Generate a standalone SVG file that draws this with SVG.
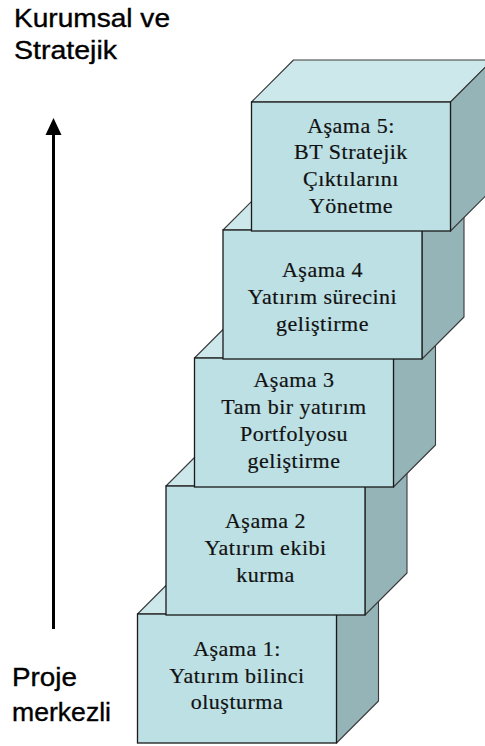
<svg xmlns="http://www.w3.org/2000/svg" width="485" height="746" viewBox="0 0 485 746">
  <style>
    .front { fill: #BCE0E4; stroke: #1a1a1a; stroke-width: 1.3; }
    .top { fill: #CDE8EB; stroke: #3a3a3a; stroke-width: 1.1; stroke-linejoin: round; }
    .side { fill: #94B4B8; stroke: #3a3a3a; stroke-width: 1.1; stroke-linejoin: round; }
    .lbl { font-family: "Liberation Serif", "Times New Roman", serif; font-size: 22px; letter-spacing: 0.5px; fill: #111; stroke: #111; stroke-width: 0.2; text-anchor: middle; }
    .axis { font-family: "Liberation Sans", Arial, sans-serif; font-size: 25px; fill: #000; stroke: #000; stroke-width: 0.35; }
  </style>
  <rect width="485" height="746" fill="#ffffff"/>

  <!-- axis labels -->
  <text class="axis" x="14" y="27" textLength="156" lengthAdjust="spacingAndGlyphs">Kurumsal ve</text>
  <text class="axis" x="14" y="59" textLength="103" lengthAdjust="spacingAndGlyphs">Stratejik</text>
  <text class="axis" x="12" y="686" textLength="65" lengthAdjust="spacingAndGlyphs">Proje</text>
  <text class="axis" x="12" y="721" textLength="99" lengthAdjust="spacingAndGlyphs">merkezli</text>

  <!-- upward arrow -->
  <g id="connectors">
    <line x1="53.5" y1="629" x2="53.5" y2="130" stroke="#000" stroke-width="3"/>
    <polygon points="53.5,118 45.5,135 61.5,135" fill="#000"/>
  </g>

  <!-- Stage 1 -->
  <g id="stage1">
    <polygon class="top" points="137.5,614 179.5,572 378.5,572 336.5,614"/>
    <polygon class="side" points="336.5,614 378.5,572 378.5,701 336.5,743"/>
    <rect class="front" x="137.5" y="614" width="199" height="129"/>
    <text class="lbl" x="237" y="656">Aşama 1:</text>
    <text class="lbl" x="237" y="683">Yatırım bilinci</text>
    <text class="lbl" x="237" y="709">oluşturma</text>
  </g>

  <!-- Stage 2 -->
  <g id="stage2">
    <polygon class="top" points="166,486 208,444 407,444 365,486"/>
    <polygon class="side" points="365,486 407,444 407,573 365,615"/>
    <rect class="front" x="166" y="486" width="199" height="129"/>
    <text class="lbl" x="265.5" y="528">Aşama 2</text>
    <text class="lbl" x="265.5" y="555">Yatırım ekibi</text>
    <text class="lbl" x="265.5" y="582">kurma</text>
  </g>

  <!-- Stage 3 -->
  <g id="stage3">
    <polygon class="top" points="194.5,358 236.5,316 435.5,316 393.5,358"/>
    <polygon class="side" points="393.5,358 435.5,316 435.5,445 393.5,487"/>
    <rect class="front" x="194.5" y="358" width="199" height="129"/>
    <text class="lbl" x="294" y="387">Aşama 3</text>
    <text class="lbl" x="294" y="414">Tam bir yatırım</text>
    <text class="lbl" x="294" y="441">Portfolyosu</text>
    <text class="lbl" x="294" y="468">geliştirme</text>
  </g>

  <!-- Stage 4 -->
  <g id="stage4">
    <polygon class="top" points="223,230 265,188 464,188 422,230"/>
    <polygon class="side" points="422,230 464,188 464,317 422,359"/>
    <rect class="front" x="223" y="230" width="199" height="129"/>
    <text class="lbl" x="322.5" y="277">Aşama 4</text>
    <text class="lbl" x="322.5" y="304">Yatırım sürecini</text>
    <text class="lbl" x="322.5" y="331">geliştirme</text>
  </g>

  <!-- Stage 5 -->
  <g id="stage5">
    <polygon class="top" points="251.5,102 293.5,60 492.5,60 450.5,102"/>
    <polygon class="side" points="450.5,102 492.5,60 492.5,189 450.5,231"/>
    <rect class="front" x="251.5" y="102" width="199" height="129"/>
    <text class="lbl" x="351" y="133">Aşama 5:</text>
    <text class="lbl" x="351" y="159">BT Stratejik</text>
    <text class="lbl" x="351" y="186">Çıktılarını</text>
    <text class="lbl" x="351" y="213">Yönetme</text>
  </g>
</svg>
